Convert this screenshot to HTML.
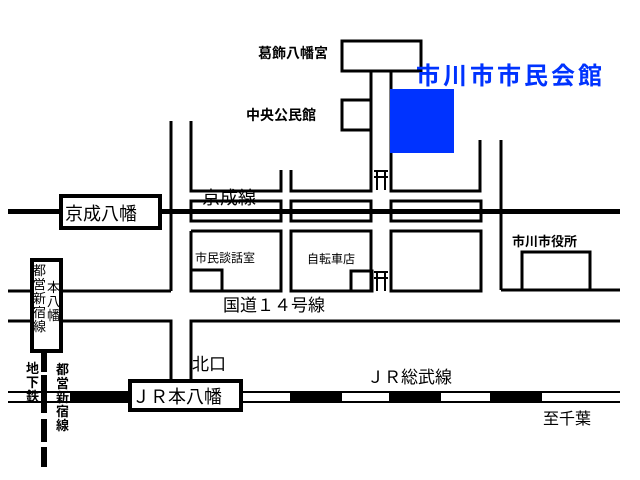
<!DOCTYPE html>
<html><head><meta charset="utf-8"><style>
html,body{margin:0;padding:0;background:#fff;width:640px;height:480px;overflow:hidden}
svg{display:block}
text{font-family:"Liberation Sans","Noto Sans CJK JP",sans-serif;fill:#000}
</style></head><body>
<svg width="640" height="480" viewBox="0 0 640 480" xmlns="http://www.w3.org/2000/svg">
<g fill="none" stroke="#000" stroke-width="3">
<rect x="342" y="41" width="79" height="30"/>
<rect x="342" y="100" width="29" height="30"/>
<polyline points="371,71 371,191 291,191 291,170"/>
<polyline points="391,71 391,191 480,191 480,140"/>
<line x1="501" y1="140" x2="501" y2="290"/>
<polyline points="501,290 620,290"/>
<polyline points="191,121 191,191 281,191 281,170"/>
<line x1="171" y1="121" x2="171" y2="291"/>
<rect x="191" y="201" width="90" height="20"/>
<rect x="291" y="201" width="80" height="20"/>
<rect x="391" y="201" width="90" height="20"/>
<polyline points="191,231 281,231 281,291 191,291 191,231"/>
<rect x="191" y="270" width="31" height="21"/>
<rect x="291" y="231" width="80" height="60"/>
<rect x="351" y="271" width="21" height="20"/>
<rect x="391" y="231" width="90" height="60"/>
<rect x="522" y="252" width="68" height="38"/>
<line x1="8" y1="291" x2="171" y2="291"/>
<polyline points="8,321 171,321 171,381"/>
<polyline points="620,321 191,321 191,381"/>
<line x1="191" y1="231" x2="191" y2="291"/>
<line x1="8" y1="392" x2="620" y2="392" stroke-width="2"/>
<line x1="8" y1="402" x2="620" y2="402" stroke-width="2"/>
</g>
<g fill="none" stroke="#000" stroke-width="2">
<path d="M374,171 H388 M374,177 H388 M377,171 V190 M385,171 V190"/>
<path d="M374,272 H388 M374,278 H388 M377,272 V291 M385,272 V291"/>
</g>
<rect x="8" y="209" width="612" height="5" fill="#000"/>
<g fill="#000">
<rect x="70" y="391" width="59" height="12"/>
<rect x="290" y="391" width="52" height="12"/>
<rect x="389" y="391" width="52" height="12"/>
<rect x="490" y="391" width="52" height="12"/>
<rect x="41" y="348" width="6" height="24"/>
<rect x="41" y="375" width="6" height="38"/>
<rect x="41" y="419" width="6" height="23"/>
<rect x="41" y="447" width="6" height="20"/>
</g>
<rect x="390" y="89" width="64" height="64" fill="#0033ff"/>
<text x="416" y="84" font-size="24" font-weight="bold" letter-spacing="3" style="fill:#0033ff">市川市市民会館</text>
<rect x="61" y="196" width="99" height="32" fill="#fff" stroke="#000" stroke-width="4"/>
<text x="65" y="220" font-size="18">京成八幡</text>
<rect x="130" y="381" width="111" height="29" fill="#fff" stroke="#000" stroke-width="4"/>
<text x="132" y="403" font-size="18">ＪＲ本八幡</text>
<rect x="32" y="260" width="29" height="91" fill="#fff" stroke="#000" stroke-width="4"/>
<g font-size="13">
<text x="33" y="275">都</text><text x="33" y="289">営</text><text x="33" y="303">新</text><text x="33" y="317">宿</text><text x="33" y="331">線</text>
<text x="47" y="292">本</text><text x="47" y="306">八</text><text x="47" y="320">幡</text>
</g>
<g font-size="13" font-weight="bold">
<text x="26" y="373">地</text><text x="26" y="387">下</text><text x="26" y="401">鉄</text>
<text x="56" y="374">都</text><text x="56" y="388">営</text><text x="56" y="402">新</text><text x="56" y="416">宿</text><text x="56" y="430">線</text>
</g>
<text x="258" y="58" font-size="14" font-weight="bold">葛飾八幡宮</text>
<text x="246" y="120" font-size="14" font-weight="bold">中央公民館</text>
<text x="202" y="204" font-size="18">京成線</text>
<text x="195" y="262" font-size="12">市民談話室</text>
<text x="307" y="263" font-size="12">自転車店</text>
<text x="512" y="246" font-size="13" font-weight="bold">市川市役所</text>
<text x="223" y="311" font-size="17">国道１４号線</text>
<text x="192" y="370" font-size="17">北口</text>
<text x="367" y="383" font-size="17">ＪＲ総武線</text>
<text x="543" y="424" font-size="16">至千葉</text>
</svg>
</body></html>
